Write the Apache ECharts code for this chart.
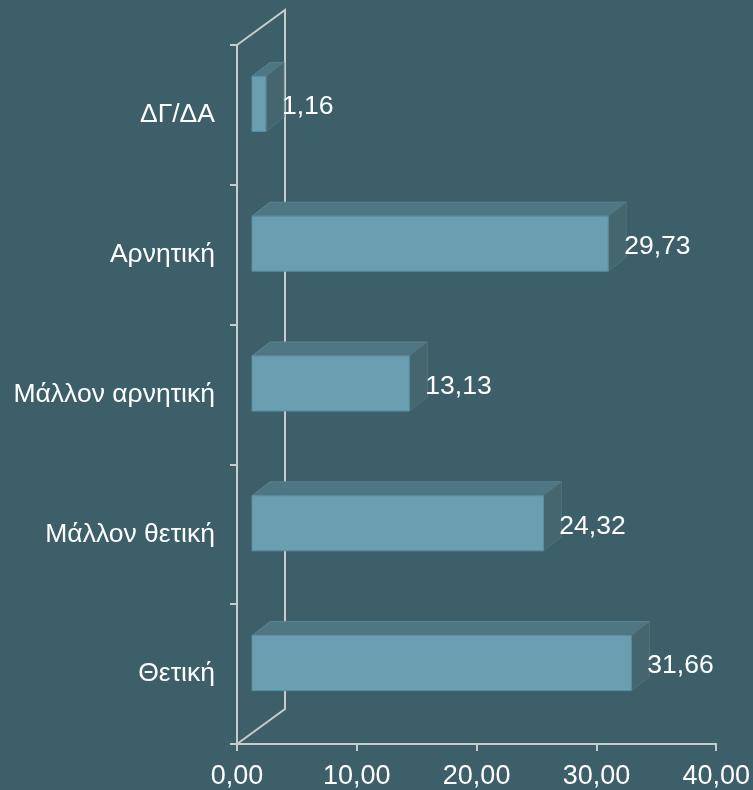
<!DOCTYPE html>
<html>
<head>
<meta charset="utf-8">
<script src="https://cdn.jsdelivr.net/npm/echarts@6/dist/echarts.min.js"></script>
<style>
  html, body { margin: 0; padding: 0; background: #3c5f6a; }
  #chart { width: 753px; height: 790px; }
</style>
</head>
<body>
<div id="chart"></div>
<script>
// ---- data ----
var categories = ['Θετική', 'Μάλλον θετική', 'Μάλλον αρνητική', 'Αρνητική', 'ΔΓ/ΔΑ'];
var values = [31.66, 24.32, 13.13, 29.73, 1.16];
var xTicks = [0, 10, 20, 30, 40];

// ---- style / geometry constants ----
var FONT = 'Liberation Sans, Arial, sans-serif';
var FS = 26.5;
var FS_X = 27;
var WALL_DX = 48, WALL_DY = -35;     // depth of the 3D wall
var BAR_FX = 15, BAR_FY = -11;       // front face shift into depth
var BAR_DX = 18, BAR_DY = -14;       // bar depth
var BAR_H = 55;                      // bar front face height
var C_FRONT = '#6a9fb1', C_TOP = '#4f7783', C_SIDE = '#46666f';
var AXIS_C = '#c8cbcc';

function fmt(v) { return v.toFixed(2).replace('.', ','); }

var chart = echarts.init(document.getElementById('chart'));

var barData = values.map(function (v, i) { return [v, i]; });

chart.setOption({
  backgroundColor: '#3c5f6a',
  animation: false,
  grid: { left: 237, right: 36, top: 45, bottom: 45, containLabel: false },
  xAxis: {
    type: 'value',
    min: xTicks[0], max: xTicks[xTicks.length - 1], interval: xTicks[1] - xTicks[0],
    axisLine: { show: true, lineStyle: { color: AXIS_C, width: 2 } },
    axisTick: { show: true, length: 7, lineStyle: { color: AXIS_C, width: 2 } },
    splitLine: { show: false },
    axisLabel: { color: '#ffffff', fontFamily: FONT, fontSize: FS_X, margin: 19, formatter: fmt }
  },
  yAxis: {
    type: 'category',
    data: categories,
    axisLine: { show: true, lineStyle: { color: AXIS_C, width: 2 } },
    axisTick: { show: true, length: 7, lineStyle: { color: AXIS_C, width: 2 } },
    axisLabel: { color: '#ffffff', fontFamily: FONT, fontSize: FS, margin: 22, padding: [6, 0, 0, 0] }
  },
  series: [
    {
      type: 'custom',
      z: 1,
      data: [[0, 0]],
      renderItem: function (params, api) {
        var cs = params.coordSys;
        var x = cs.x, y = cs.y, h = cs.height;
        return {
          type: 'polyline',
          shape: { points: [[x, y], [x + WALL_DX, y + WALL_DY], [x + WALL_DX, y + h + WALL_DY], [x, y + h]] },
          style: { stroke: AXIS_C, lineWidth: 2, fill: null }
        };
      },
      silent: true
    },
    {
      type: 'custom',
      z: 5,
      encode: { x: 0, y: 1 },
      data: barData,
      renderItem: function (params, api) {
        var v = api.value(0), idx = api.value(1);
        var p0 = api.coord([0, idx]);
        var p1 = api.coord([v, idx]);
        var x0 = p0[0] + BAR_FX, x1 = p1[0] + BAR_FX;
        var top = p0[1] + BAR_FY - BAR_H / 2;
        var bot = top + BAR_H;
        return {
          type: 'group',
          children: [
            { type: 'polygon', shape: { points: [[x0, top], [x1, top], [x1 + BAR_DX, top + BAR_DY], [x0 + BAR_DX, top + BAR_DY]] },
              style: { fill: C_TOP, stroke: '#5b8592', lineWidth: 1 } },
            { type: 'polygon', shape: { points: [[x1, top], [x1 + BAR_DX, top + BAR_DY], [x1 + BAR_DX, bot + BAR_DY], [x1, bot]] },
              style: { fill: C_SIDE, stroke: '#52737c', lineWidth: 1 } },
            { type: 'rect', shape: { x: x0, y: top, width: x1 - x0, height: BAR_H },
              style: { fill: C_FRONT, stroke: '#5e8e9e', lineWidth: 1 } },
            { type: 'text', style: { text: fmt(v), x: x1 + BAR_DX - 2, y: p0[1] - 8,
                verticalAlign: 'middle', align: 'left', fill: '#ffffff', font: FS + 'px ' + FONT } }
          ]
        };
      }
    }
  ]
});
</script>
</body>
</html>
